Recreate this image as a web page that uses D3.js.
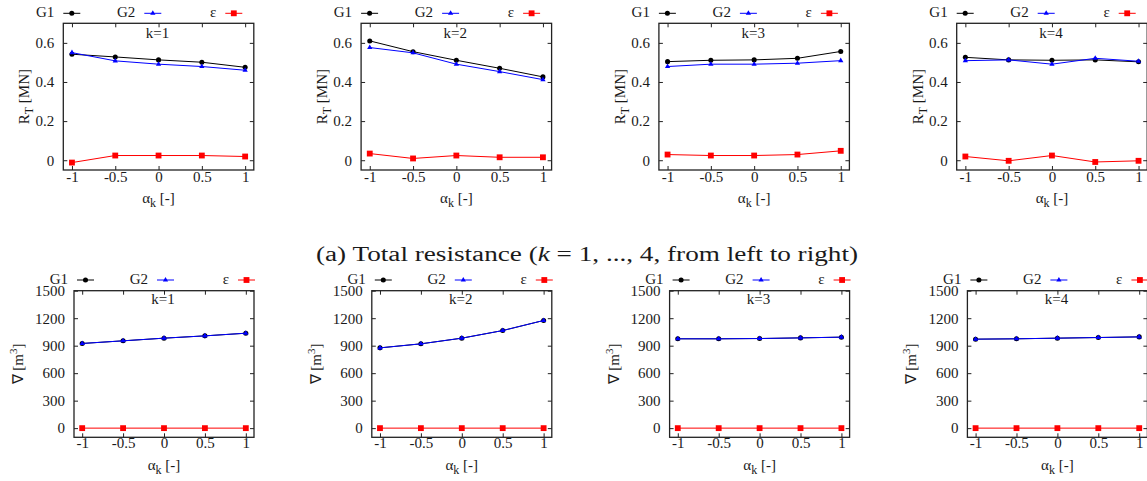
<!DOCTYPE html>
<html>
<head>
<meta charset="utf-8">
<script src="https://cdn.jsdelivr.net/npm/d3@7"></script>
<style>
  body { margin: 0; background: #fff; }
  svg text { font-family: 'Liberation Serif', 'Times New Roman', Times, serif; fill: #1a1a1a; }
</style>
</head>
<body>
<script>
var W = 1147, H = 481;
var SERIF = "'Liberation Serif', 'Times New Roman', Times, serif";

// x values (alpha_k) and tick labels
var alpha = [-1, -0.5, 0, 0.5, 1];
var xTicks = [-1, -0.5, 0, 0.5, 1];
var rtTicks = [0, 0.2, 0.4, 0.6];
var volTicks = [0, 300, 600, 900, 1200, 1500];
var kLabels = ["k=1", "k=2", "k=3", "k=4"];

// total resistance R_T [MN], one row per k
var rtG1 = [
  [0.542, 0.528, 0.513, 0.501, 0.475],
  [0.610, 0.555, 0.511, 0.470, 0.426],
  [0.504, 0.511, 0.513, 0.521, 0.556],
  [0.526, 0.513, 0.511, 0.513, 0.503]
];
var rtG2 = [
  [0.550, 0.508, 0.491, 0.479, 0.460],
  [0.576, 0.549, 0.491, 0.453, 0.412],
  [0.479, 0.491, 0.491, 0.496, 0.509],
  [0.509, 0.513, 0.491, 0.521, 0.506]
];
var rtEps = [
  [-0.012, 0.024, 0.024, 0.024, 0.019],
  [0.034, 0.009, 0.024, 0.015, 0.015],
  [0.029, 0.024, 0.024, 0.029, 0.048],
  [0.019, -0.003, 0.024, -0.009, -0.003]
];

// displacement volume [m^3], one row per k
var volG1 = [
  [924, 953, 982, 1007, 1036],
  [876, 920, 982, 1065, 1175],
  [975, 975, 978, 985, 993],
  [971, 975, 982, 989, 996]
];
var volG2 = [
  [924, 953, 982, 1007, 1036],
  [876, 920, 982, 1065, 1175],
  [975, 975, 978, 985, 993],
  [971, 975, 982, 989, 996]
];
var volEps = [
  [0, 0, 0, 0, 0],
  [0, 0, 0, 0, 0],
  [0, 0, 0, 0, 0],
  [0, 0, 0, 0, 0]
];

var svg = d3.select("body").append("svg")
  .attr("width", W)
  .attr("height", H)
  .attr("font-family", SERIF);

svg.append("rect").attr("width", W).attr("height", H).attr("fill", "#fff");

var series = [
  {name: "G1", color: "#000", sym: d3.symbolCircle, size: 20},
  {name: "G2", color: "#0000ff", sym: d3.symbolTriangle, size: 12},
  {name: "\u03b5", color: "#ff0000", sym: d3.symbolSquare, size: 34}
];

function drawPanel(opt) {
  var g = svg.append("g").attr("transform", "translate(" + opt.left + "," + opt.top + ")");
  var x = d3.scaleLinear().domain([-1.1, 1.1]).range([0, opt.w]);
  var y = d3.scaleLinear().domain(opt.ydom).range([opt.h, 0]);

  var fmt = function(d) { return String(d); };

  // inward ticks on all four sides
  var ax = g.append("g").attr("transform", "translate(0," + opt.h + ")")
    .call(d3.axisBottom(x).tickValues(xTicks).tickSize(-4).tickPadding(9).tickFormat(fmt));
  g.append("g")
    .call(d3.axisTop(x).tickValues(xTicks).tickSize(-4).tickFormat(""));
  g.append("g")
    .call(d3.axisLeft(y).tickValues(opt.yticks).tickSize(-4).tickPadding(9).tickFormat(fmt));
  g.append("g").attr("transform", "translate(" + opt.w + ",0)")
    .call(d3.axisRight(y).tickValues(opt.yticks).tickSize(-4).tickFormat(""));

  g.selectAll(".domain").remove();
  g.selectAll("g").attr("font-family", SERIF).attr("font-size", opt.fs);
  g.selectAll(".tick line").attr("stroke", "#222").attr("stroke-width", 1);
  g.selectAll(".tick text")
    .attr("font-family", SERIF)
    .attr("font-size", opt.fs)
    .attr("fill", "#1a1a1a");
  ax.selectAll(".tick text").attr("y", 0).attr("dy", null).attr("transform", "translate(0," + opt.xtickY + ")");

  g.append("rect")
    .attr("width", opt.w).attr("height", opt.h)
    .attr("fill", "none").attr("stroke", "#222").attr("stroke-width", 1.3);

  var line = d3.line()
    .x(function(d, i) { return x(alpha[i]); })
    .y(function(d) { return y(d); });

  var data = [opt.g1, opt.g2, opt.eps];
  data.forEach(function(vals, s) {
    var sr = series[s];
    g.append("path").datum(vals)
      .attr("d", line)
      .attr("fill", "none")
      .attr("stroke", sr.color)
      .attr("stroke-width", 1);
    g.selectAll(".m" + s).data(vals).enter().append("path")
      .attr("class", "m" + s)
      .attr("d", d3.symbol().type(sr.sym).size(sr.size))
      .attr("transform", function(d, i) { return "translate(" + x(alpha[i]) + "," + y(d) + ")"; })
      .attr("fill", sr.color);
  });

  // k label
  g.append("text")
    .attr("x", opt.w / 2 - 1).attr("y", opt.kY)
    .attr("text-anchor", "middle")
    .attr("font-family", SERIF)
    .attr("font-size", opt.fs)
    .text(opt.k);

  // x axis label
  var xl = g.append("text")
    .attr("x", opt.w / 2).attr("y", opt.h + 33)
    .attr("text-anchor", "middle")
    .attr("font-family", SERIF)
    .attr("font-size", opt.fs);
  xl.append("tspan").text("\u03b1");
  xl.append("tspan").attr("dy", 4).attr("font-size", opt.fs - 3).text("k");
  xl.append("tspan").attr("dy", -4).text(" [-]");

  // y axis label
  var yl = g.append("text")
    .attr("transform", "translate(" + opt.ylabX + "," + (opt.h / 2) + ") rotate(-90)")
    .attr("text-anchor", "middle")
    .attr("font-family", SERIF)
    .attr("font-size", opt.fs);
  opt.ylab(yl, opt.fs);

  // legend above the frame
  var lg = g.append("g").attr("transform", "translate(0," + opt.legY + ")");
  series.forEach(function(sr, s) {
    var x0 = opt.legX[s];
    lg.append("text")
      .attr("x", x0 - 9).attr("y", 4)
      .attr("text-anchor", "end")
      .attr("font-family", SERIF)
      .attr("font-size", opt.fs)
      .text(sr.name);
    lg.append("line")
      .attr("x1", x0).attr("x2", x0 + 17)
      .attr("stroke", sr.color).attr("stroke-width", 1);
    lg.append("path")
      .attr("d", d3.symbol().type(sr.sym).size(sr.size))
      .attr("transform", "translate(" + (x0 + 8.5) + ",0)")
      .attr("fill", sr.color);
  });
}

function rtLabel(t, fs) {
  t.append("tspan").text("R");
  t.append("tspan").attr("dy", 4).attr("font-size", fs - 3).text("T");
  t.append("tspan").attr("dy", -4).text(" [MN]");
}
function volLabel(t, fs) {
  t.append("tspan").text("\u2207 [m");
  t.append("tspan").attr("dy", -6).attr("font-size", fs - 4).text("3");
  t.append("tspan").attr("dy", 6).text("]");
}

var step = 297.8;
for (var k = 0; k < 4; k++) {
  drawPanel({
    left: 63.3 + k * step, top: 23.3, w: 190.5, h: 146.7,
    ydom: [-0.05, 0.7], yticks: rtTicks, fs: 15, xtickY: 12,
    g1: rtG1[k], g2: rtG2[k], eps: rtEps[k], k: kLabels[k],
    kY: 14.5, ylabX: -34, ylab: rtLabel,
    legY: -10, legX: [0, 81, 162]
  });
  drawPanel({
    left: 74 + k * step, top: 290.7, w: 180, h: 146.6,
    ydom: [-100, 1500], yticks: volTicks, fs: 15, xtickY: 11,
    g1: volG1[k], g2: volG2[k], eps: volEps[k], k: kLabels[k],
    kY: 12.8, ylabX: -51, ylab: volLabel,
    legY: -10.7, legX: [3, 83, 164]
  });
}

// caption between the rows
var cap = svg.append("text")
  .attr("x", 316).attr("y", 261)
  .attr("textLength", 542)
  .attr("lengthAdjust", "spacingAndGlyphs")
  .attr("font-family", SERIF)
  .attr("font-size", 20);
cap.append("tspan").text("(a)  Total resistance (");
cap.append("tspan").attr("font-style", "italic").text("k");
cap.append("tspan").text(" = 1, ..., 4, from left to right)");
</script>
</body>
</html>
